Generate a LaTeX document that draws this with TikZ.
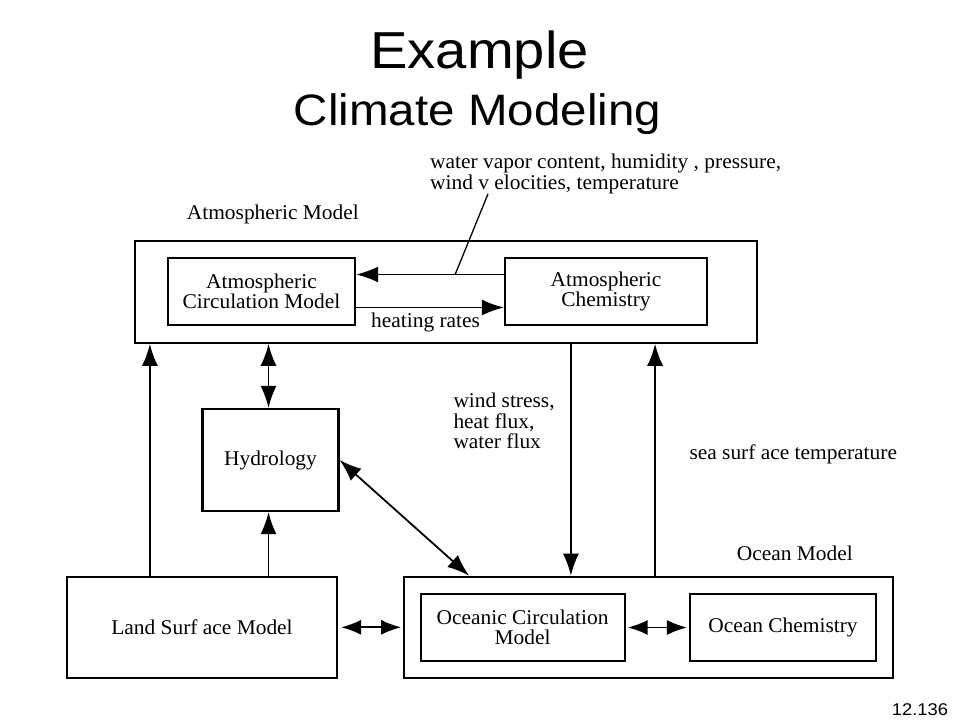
\documentclass[tikz,border=0pt]{standalone}
\usepackage{fontspec}
\setmainfont{Liberation Serif}[FakeStretch=1.02]
\newfontfamily\titlefont{Liberation Sans}[FakeStretch=1.08]
\usetikzlibrary{arrows.meta,positioning}
\tikzset{
block/.style = {draw, fill=white, rectangle, line width=2.2pt, inner sep=0pt, align=center},
frame/.style = {draw, rectangle, line width=2.2pt, inner sep=0pt},
txt/.style   = {inner sep=0pt, align=left},
conn/.style  = {line width=1.8pt},
lead/.style  = {line width=1.3pt}
}

\begin{document}
\begin{tikzpicture}[x=1pt, y=1pt, >={Latex[length=22pt,width=16pt]}, font=\fontsize{21}{20.5}\selectfont]
  \useasboundingbox (0,0) rectangle (960,720);
  \node [anchor=base] (title)    at (479.5,651.7) {\titlefont\fontsize{52}{52}\selectfont Example};
  \node [anchor=base] (subtitle) at (477.5,594)   {\titlefont\fontsize{44}{44}\selectfont Climate Modeling};

  \node [frame, minimum width=622pt, minimum height=102pt]                            (atm)   at (446,428.3) {};
  \node [block, minimum width=187pt, minimum height=67pt]                             (acm)   at (261.5,428.5) {Atmospheric\\Circulation Model};
  \node [block, minimum width=202pt, minimum height=67pt, right of=acm, node distance=344.5pt] (ach) {Atmospheric\\Chemistry};
  \node [block, minimum width=136pt, minimum height=102pt]                            (hydro) at (270.5,260) {Hydrology};
  \node [block, minimum width=270pt, minimum height=101pt]                            (land)  at (202,92.7) {Land Surf ace Model};
  \node [frame, minimum width=489pt, minimum height=101pt]                            (ocean) at (648.7,92.7) {};
  \node [block, minimum width=204pt, minimum height=67pt]                             (ocm)   at (522.6,92.5) {Oceanic Circulation\\Model};
  \node [block, minimum width=186pt, minimum height=67pt, right of=ocm, node distance=260.4pt] (och) {Ocean Chemistry};

  \node [txt, anchor=base west]  (atmlbl)   at (186.7,500) {Atmospheric Model};
  \node [txt, anchor=north west] (vapor)    at (430,566)   {water vapor content, humidity , pressure,\\wind v elocities, temperature};
  \node [txt, anchor=north west] (flux)     at (453.3,327) {wind stress,\\heat flux,\\water flux};
  \node [txt, anchor=base west]  (sst)      at (689.3,260) {sea surf ace temperature};
  \node [txt, anchor=base west]  (oceanlbl) at (736.7,160) {Ocean Model};
  \node [txt, anchor=base east]  (pagenum)  at (948.3,4.3) {\titlefont\fontsize{17}{17}\selectfont 12.136};

  \draw [conn,->] ([yshift=17pt]ach.west) -- coordinate[pos=0.33] (lfoot) ([yshift=17pt]acm.east);
  \draw [lead] (lfoot) -- ([xshift=58pt]vapor.south west);
  \draw [conn,->] ([yshift=-16pt]acm.east) -- node[below, pos=0.47, inner sep=5pt] (heat) {heating rates} ([yshift=-16pt]ach.west);
  \draw [conn,->] ([xshift=84pt]land.north west) -- ([xshift=16pt]atm.south west);
  \draw [conn,<->] ([xshift=-2pt]hydro.north |- atm.south) -- ([xshift=-2pt]hydro.north);
  \draw [conn,->] ([xshift=-2pt]hydro.south |- land.north) -- ([xshift=-2pt]hydro.south);
  \draw [conn,->] ([xshift=437pt]atm.south west) -- ([xshift=437pt]atm.south west |- ocean.north);
  \draw [conn,->] ([xshift=252pt]ocean.north west) -- ([xshift=252pt]ocean.north west |- atm.south);
  \draw [conn,<->] (hydro.east) -- ([xshift=66pt]ocean.north west);
  \draw [conn,<->,>={Latex[length=20pt,width=15pt]}] ([xshift=3pt]land.east) -- ([xshift=-2pt]ocean.west);
  \draw [conn,<->,>={Latex[length=20pt,width=15pt]}] ([xshift=2pt]ocm.east) -- ([xshift=-2pt]och.west);
\end{tikzpicture}
\end{document}
